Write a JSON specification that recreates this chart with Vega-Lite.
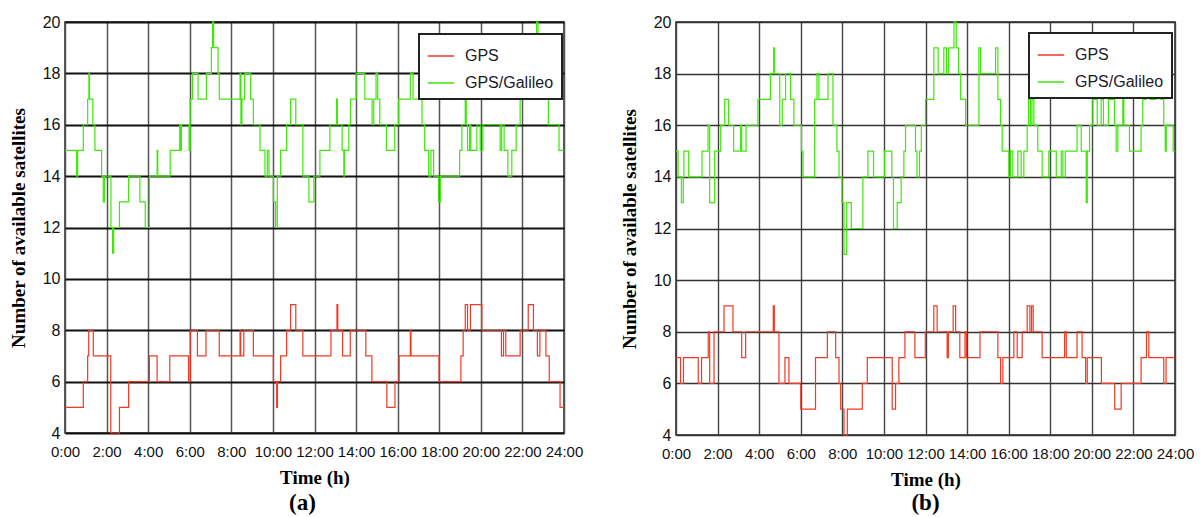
{
  "$schema": "https://vega.github.io/schema/vega-lite/v6.json",
  "background": "white",
  "padding": {"left": 8, "top": 13, "right": 5, "bottom": 5},
  "spacing": 35,
  "datasets": {
    "a": [
      {"s":"GPS/Galileo","t":0,"n":15},{"s":"GPS/Galileo","t":0.56,"n":14},{"s":"GPS/Galileo","t":0.61,"n":15},{"s":"GPS/Galileo","t":0.88,"n":16},{"s":"GPS/Galileo","t":1.09,"n":17},{"s":"GPS/Galileo","t":1.15,"n":18},{"s":"GPS/Galileo","t":1.18,"n":17},{"s":"GPS/Galileo","t":1.34,"n":16},{"s":"GPS/Galileo","t":1.44,"n":15},{"s":"GPS/Galileo","t":1.76,"n":14},{"s":"GPS/Galileo","t":1.84,"n":13},{"s":"GPS/Galileo","t":1.9,"n":14},{"s":"GPS/Galileo","t":2.21,"n":12},{"s":"GPS/Galileo","t":2.29,"n":11},{"s":"GPS/Galileo","t":2.34,"n":12},{"s":"GPS/Galileo","t":2.62,"n":13},{"s":"GPS/Galileo","t":3.06,"n":14},{"s":"GPS/Galileo","t":3.6,"n":13},{"s":"GPS/Galileo","t":3.86,"n":12},{"s":"GPS/Galileo","t":4.06,"n":14},{"s":"GPS/Galileo","t":4.43,"n":15},{"s":"GPS/Galileo","t":4.46,"n":14},{"s":"GPS/Galileo","t":5.06,"n":15},{"s":"GPS/Galileo","t":5.52,"n":16},{"s":"GPS/Galileo","t":5.55,"n":15},{"s":"GPS/Galileo","t":5.6,"n":16},{"s":"GPS/Galileo","t":5.97,"n":15},{"s":"GPS/Galileo","t":6.02,"n":17},{"s":"GPS/Galileo","t":6.13,"n":18},{"s":"GPS/Galileo","t":6.4,"n":17},{"s":"GPS/Galileo","t":6.8,"n":18},{"s":"GPS/Galileo","t":7.04,"n":19},{"s":"GPS/Galileo","t":7.1,"n":20},{"s":"GPS/Galileo","t":7.15,"n":19},{"s":"GPS/Galileo","t":7.36,"n":18},{"s":"GPS/Galileo","t":7.42,"n":17},{"s":"GPS/Galileo","t":8.42,"n":18},{"s":"GPS/Galileo","t":8.46,"n":16},{"s":"GPS/Galileo","t":8.51,"n":17},{"s":"GPS/Galileo","t":8.64,"n":18},{"s":"GPS/Galileo","t":8.93,"n":17},{"s":"GPS/Galileo","t":9.06,"n":16},{"s":"GPS/Galileo","t":9.38,"n":15},{"s":"GPS/Galileo","t":9.62,"n":14},{"s":"GPS/Galileo","t":9.73,"n":15},{"s":"GPS/Galileo","t":9.81,"n":14},{"s":"GPS/Galileo","t":10.02,"n":13},{"s":"GPS/Galileo","t":10.13,"n":12},{"s":"GPS/Galileo","t":10.21,"n":14},{"s":"GPS/Galileo","t":10.37,"n":15},{"s":"GPS/Galileo","t":10.66,"n":16},{"s":"GPS/Galileo","t":10.85,"n":17},{"s":"GPS/Galileo","t":11.1,"n":16},{"s":"GPS/Galileo","t":11.44,"n":14},{"s":"GPS/Galileo","t":11.73,"n":13},{"s":"GPS/Galileo","t":11.97,"n":14},{"s":"GPS/Galileo","t":12.26,"n":15},{"s":"GPS/Galileo","t":12.74,"n":16},{"s":"GPS/Galileo","t":13.06,"n":17},{"s":"GPS/Galileo","t":13.1,"n":16},{"s":"GPS/Galileo","t":13.33,"n":15},{"s":"GPS/Galileo","t":13.41,"n":14},{"s":"GPS/Galileo","t":13.44,"n":15},{"s":"GPS/Galileo","t":13.65,"n":16},{"s":"GPS/Galileo","t":13.73,"n":17},{"s":"GPS/Galileo","t":14.0,"n":18},{"s":"GPS/Galileo","t":14.42,"n":17},{"s":"GPS/Galileo","t":14.77,"n":16},{"s":"GPS/Galileo","t":14.85,"n":17},{"s":"GPS/Galileo","t":14.96,"n":18},{"s":"GPS/Galileo","t":15.04,"n":17},{"s":"GPS/Galileo","t":15.14,"n":16},{"s":"GPS/Galileo","t":15.46,"n":15},{"s":"GPS/Galileo","t":15.86,"n":16},{"s":"GPS/Galileo","t":16.05,"n":17},{"s":"GPS/Galileo","t":16.61,"n":18},{"s":"GPS/Galileo","t":16.74,"n":17},{"s":"GPS/Galileo","t":17.17,"n":16},{"s":"GPS/Galileo","t":17.3,"n":15},{"s":"GPS/Galileo","t":17.49,"n":14},{"s":"GPS/Galileo","t":17.6,"n":15},{"s":"GPS/Galileo","t":17.73,"n":14},{"s":"GPS/Galileo","t":17.97,"n":13},{"s":"GPS/Galileo","t":18.05,"n":14},{"s":"GPS/Galileo","t":18.98,"n":15},{"s":"GPS/Galileo","t":19.09,"n":16},{"s":"GPS/Galileo","t":19.25,"n":17},{"s":"GPS/Galileo","t":19.3,"n":16},{"s":"GPS/Galileo","t":19.36,"n":15},{"s":"GPS/Galileo","t":19.46,"n":16},{"s":"GPS/Galileo","t":19.52,"n":15},{"s":"GPS/Galileo","t":19.81,"n":16},{"s":"GPS/Galileo","t":19.97,"n":15},{"s":"GPS/Galileo","t":20.1,"n":16},{"s":"GPS/Galileo","t":20.93,"n":15},{"s":"GPS/Galileo","t":21.0,"n":16},{"s":"GPS/Galileo","t":21.12,"n":15},{"s":"GPS/Galileo","t":21.3,"n":14},{"s":"GPS/Galileo","t":21.49,"n":15},{"s":"GPS/Galileo","t":21.7,"n":16},{"s":"GPS/Galileo","t":21.89,"n":17},{"s":"GPS/Galileo","t":22.2,"n":18},{"s":"GPS/Galileo","t":22.68,"n":20},{"s":"GPS/Galileo","t":22.75,"n":18},{"s":"GPS/Galileo","t":23.09,"n":17},{"s":"GPS/Galileo","t":23.25,"n":16},{"s":"GPS/Galileo","t":23.76,"n":15},{"s":"GPS/Galileo","t":24,"n":15},
      {"s":"GPS","t":0,"n":5},{"s":"GPS","t":0.88,"n":6},{"s":"GPS","t":1.09,"n":7},{"s":"GPS","t":1.14,"n":8},{"s":"GPS","t":1.36,"n":7},{"s":"GPS","t":2.2,"n":4},{"s":"GPS","t":2.62,"n":5},{"s":"GPS","t":3.06,"n":6},{"s":"GPS","t":4.06,"n":7},{"s":"GPS","t":4.43,"n":6},{"s":"GPS","t":5.04,"n":7},{"s":"GPS","t":5.94,"n":6},{"s":"GPS","t":6.02,"n":8},{"s":"GPS","t":6.37,"n":7},{"s":"GPS","t":6.78,"n":8},{"s":"GPS","t":7.42,"n":7},{"s":"GPS","t":8.42,"n":8},{"s":"GPS","t":8.45,"n":7},{"s":"GPS","t":8.6,"n":8},{"s":"GPS","t":9.06,"n":7},{"s":"GPS","t":10.02,"n":6},{"s":"GPS","t":10.18,"n":5},{"s":"GPS","t":10.22,"n":6},{"s":"GPS","t":10.37,"n":7},{"s":"GPS","t":10.66,"n":8},{"s":"GPS","t":10.85,"n":9},{"s":"GPS","t":11.1,"n":8},{"s":"GPS","t":11.44,"n":7},{"s":"GPS","t":12.79,"n":8},{"s":"GPS","t":13.08,"n":9},{"s":"GPS","t":13.12,"n":8},{"s":"GPS","t":13.35,"n":7},{"s":"GPS","t":13.72,"n":8},{"s":"GPS","t":14.47,"n":7},{"s":"GPS","t":14.76,"n":6},{"s":"GPS","t":15.48,"n":5},{"s":"GPS","t":15.87,"n":6},{"s":"GPS","t":16.07,"n":7},{"s":"GPS","t":16.61,"n":8},{"s":"GPS","t":16.64,"n":7},{"s":"GPS","t":17.99,"n":6},{"s":"GPS","t":19.04,"n":7},{"s":"GPS","t":19.15,"n":8},{"s":"GPS","t":19.25,"n":9},{"s":"GPS","t":19.36,"n":8},{"s":"GPS","t":19.5,"n":9},{"s":"GPS","t":20.05,"n":8},{"s":"GPS","t":20.99,"n":7},{"s":"GPS","t":21.09,"n":8},{"s":"GPS","t":21.2,"n":7},{"s":"GPS","t":21.89,"n":8},{"s":"GPS","t":22.28,"n":9},{"s":"GPS","t":22.53,"n":8},{"s":"GPS","t":22.72,"n":7},{"s":"GPS","t":22.84,"n":8},{"s":"GPS","t":23.13,"n":7},{"s":"GPS","t":23.29,"n":6},{"s":"GPS","t":23.81,"n":5},{"s":"GPS","t":24,"n":5}
    ],
    "b": [
      {"s":"GPS/Galileo","t":0,"n":15},{"s":"GPS/Galileo","t":0.1,"n":14},{"s":"GPS/Galileo","t":0.26,"n":13},{"s":"GPS/Galileo","t":0.35,"n":14},{"s":"GPS/Galileo","t":0.38,"n":15},{"s":"GPS/Galileo","t":0.61,"n":14},{"s":"GPS/Galileo","t":1.25,"n":15},{"s":"GPS/Galileo","t":1.54,"n":16},{"s":"GPS/Galileo","t":1.62,"n":13},{"s":"GPS/Galileo","t":1.86,"n":15},{"s":"GPS/Galileo","t":2.15,"n":16},{"s":"GPS/Galileo","t":2.34,"n":17},{"s":"GPS/Galileo","t":2.53,"n":16},{"s":"GPS/Galileo","t":2.77,"n":15},{"s":"GPS/Galileo","t":3.11,"n":16},{"s":"GPS/Galileo","t":3.16,"n":15},{"s":"GPS/Galileo","t":3.37,"n":16},{"s":"GPS/Galileo","t":3.94,"n":17},{"s":"GPS/Galileo","t":4.54,"n":18},{"s":"GPS/Galileo","t":4.7,"n":19},{"s":"GPS/Galileo","t":4.74,"n":18},{"s":"GPS/Galileo","t":4.99,"n":16},{"s":"GPS/Galileo","t":5.11,"n":17},{"s":"GPS/Galileo","t":5.27,"n":18},{"s":"GPS/Galileo","t":5.51,"n":17},{"s":"GPS/Galileo","t":5.67,"n":16},{"s":"GPS/Galileo","t":6.03,"n":15},{"s":"GPS/Galileo","t":6.11,"n":14},{"s":"GPS/Galileo","t":6.67,"n":17},{"s":"GPS/Galileo","t":6.78,"n":18},{"s":"GPS/Galileo","t":6.87,"n":17},{"s":"GPS/Galileo","t":7.31,"n":18},{"s":"GPS/Galileo","t":7.55,"n":16},{"s":"GPS/Galileo","t":7.74,"n":15},{"s":"GPS/Galileo","t":7.84,"n":14},{"s":"GPS/Galileo","t":7.98,"n":13},{"s":"GPS/Galileo","t":8.08,"n":11},{"s":"GPS/Galileo","t":8.21,"n":13},{"s":"GPS/Galileo","t":8.43,"n":12},{"s":"GPS/Galileo","t":8.99,"n":14},{"s":"GPS/Galileo","t":9.23,"n":15},{"s":"GPS/Galileo","t":9.5,"n":14},{"s":"GPS/Galileo","t":10.03,"n":15},{"s":"GPS/Galileo","t":10.38,"n":14},{"s":"GPS/Galileo","t":10.46,"n":12},{"s":"GPS/Galileo","t":10.64,"n":13},{"s":"GPS/Galileo","t":10.83,"n":14},{"s":"GPS/Galileo","t":10.96,"n":15},{"s":"GPS/Galileo","t":11.04,"n":16},{"s":"GPS/Galileo","t":11.52,"n":15},{"s":"GPS/Galileo","t":11.59,"n":14},{"s":"GPS/Galileo","t":11.71,"n":15},{"s":"GPS/Galileo","t":11.8,"n":16},{"s":"GPS/Galileo","t":12.0,"n":17},{"s":"GPS/Galileo","t":12.4,"n":19},{"s":"GPS/Galileo","t":12.61,"n":18},{"s":"GPS/Galileo","t":12.88,"n":19},{"s":"GPS/Galileo","t":13.01,"n":18},{"s":"GPS/Galileo","t":13.11,"n":19},{"s":"GPS/Galileo","t":13.37,"n":20},{"s":"GPS/Galileo","t":13.48,"n":19},{"s":"GPS/Galileo","t":13.59,"n":18},{"s":"GPS/Galileo","t":13.69,"n":17},{"s":"GPS/Galileo","t":13.93,"n":16},{"s":"GPS/Galileo","t":14.57,"n":19},{"s":"GPS/Galileo","t":14.65,"n":18},{"s":"GPS/Galileo","t":15.37,"n":19},{"s":"GPS/Galileo","t":15.48,"n":17},{"s":"GPS/Galileo","t":15.61,"n":16},{"s":"GPS/Galileo","t":15.69,"n":15},{"s":"GPS/Galileo","t":16.01,"n":14},{"s":"GPS/Galileo","t":16.09,"n":15},{"s":"GPS/Galileo","t":16.2,"n":14},{"s":"GPS/Galileo","t":16.44,"n":15},{"s":"GPS/Galileo","t":16.6,"n":14},{"s":"GPS/Galileo","t":16.73,"n":15},{"s":"GPS/Galileo","t":16.89,"n":16},{"s":"GPS/Galileo","t":16.96,"n":17},{"s":"GPS/Galileo","t":17.05,"n":16},{"s":"GPS/Galileo","t":17.12,"n":17},{"s":"GPS/Galileo","t":17.21,"n":16},{"s":"GPS/Galileo","t":17.4,"n":15},{"s":"GPS/Galileo","t":17.61,"n":14},{"s":"GPS/Galileo","t":17.93,"n":15},{"s":"GPS/Galileo","t":18.29,"n":14},{"s":"GPS/Galileo","t":18.53,"n":15},{"s":"GPS/Galileo","t":18.61,"n":14},{"s":"GPS/Galileo","t":18.72,"n":15},{"s":"GPS/Galileo","t":19.29,"n":16},{"s":"GPS/Galileo","t":19.49,"n":15},{"s":"GPS/Galileo","t":19.73,"n":13},{"s":"GPS/Galileo","t":19.78,"n":15},{"s":"GPS/Galileo","t":19.89,"n":16},{"s":"GPS/Galileo","t":20.05,"n":17},{"s":"GPS/Galileo","t":20.26,"n":16},{"s":"GPS/Galileo","t":20.45,"n":17},{"s":"GPS/Galileo","t":20.56,"n":16},{"s":"GPS/Galileo","t":20.8,"n":17},{"s":"GPS/Galileo","t":21.09,"n":16},{"s":"GPS/Galileo","t":21.17,"n":15},{"s":"GPS/Galileo","t":21.25,"n":16},{"s":"GPS/Galileo","t":21.49,"n":17},{"s":"GPS/Galileo","t":21.54,"n":16},{"s":"GPS/Galileo","t":21.81,"n":15},{"s":"GPS/Galileo","t":22.37,"n":16},{"s":"GPS/Galileo","t":22.45,"n":17},{"s":"GPS/Galileo","t":22.61,"n":18},{"s":"GPS/Galileo","t":22.8,"n":17},{"s":"GPS/Galileo","t":23.09,"n":18},{"s":"GPS/Galileo","t":23.33,"n":17},{"s":"GPS/Galileo","t":23.46,"n":16},{"s":"GPS/Galileo","t":23.53,"n":15},{"s":"GPS/Galileo","t":23.58,"n":16},{"s":"GPS/Galileo","t":23.91,"n":15},{"s":"GPS/Galileo","t":24,"n":15},
      {"s":"GPS","t":0,"n":7},{"s":"GPS","t":0.22,"n":6},{"s":"GPS","t":0.36,"n":7},{"s":"GPS","t":1.07,"n":6},{"s":"GPS","t":1.23,"n":7},{"s":"GPS","t":1.55,"n":8},{"s":"GPS","t":1.62,"n":6},{"s":"GPS","t":1.83,"n":8},{"s":"GPS","t":2.31,"n":9},{"s":"GPS","t":2.74,"n":8},{"s":"GPS","t":3.16,"n":7},{"s":"GPS","t":3.35,"n":8},{"s":"GPS","t":4.68,"n":9},{"s":"GPS","t":4.73,"n":8},{"s":"GPS","t":4.95,"n":6},{"s":"GPS","t":5.24,"n":7},{"s":"GPS","t":5.43,"n":6},{"s":"GPS","t":6.0,"n":5},{"s":"GPS","t":6.71,"n":7},{"s":"GPS","t":7.28,"n":8},{"s":"GPS","t":7.68,"n":7},{"s":"GPS","t":7.84,"n":6},{"s":"GPS","t":7.92,"n":5},{"s":"GPS","t":8.08,"n":4},{"s":"GPS","t":8.24,"n":5},{"s":"GPS","t":8.96,"n":6},{"s":"GPS","t":9.2,"n":7},{"s":"GPS","t":10.4,"n":5},{"s":"GPS","t":10.56,"n":6},{"s":"GPS","t":10.72,"n":7},{"s":"GPS","t":11.01,"n":8},{"s":"GPS","t":11.49,"n":7},{"s":"GPS","t":11.99,"n":8},{"s":"GPS","t":12.4,"n":9},{"s":"GPS","t":12.56,"n":8},{"s":"GPS","t":13.04,"n":7},{"s":"GPS","t":13.1,"n":8},{"s":"GPS","t":13.33,"n":9},{"s":"GPS","t":13.45,"n":8},{"s":"GPS","t":13.65,"n":7},{"s":"GPS","t":13.9,"n":8},{"s":"GPS","t":13.97,"n":7},{"s":"GPS","t":14.62,"n":8},{"s":"GPS","t":15.48,"n":7},{"s":"GPS","t":15.61,"n":6},{"s":"GPS","t":15.72,"n":7},{"s":"GPS","t":16.25,"n":8},{"s":"GPS","t":16.41,"n":7},{"s":"GPS","t":16.65,"n":8},{"s":"GPS","t":16.89,"n":9},{"s":"GPS","t":17.02,"n":8},{"s":"GPS","t":17.1,"n":9},{"s":"GPS","t":17.18,"n":8},{"s":"GPS","t":17.61,"n":7},{"s":"GPS","t":18.69,"n":8},{"s":"GPS","t":18.77,"n":7},{"s":"GPS","t":19.29,"n":8},{"s":"GPS","t":19.53,"n":7},{"s":"GPS","t":19.7,"n":6},{"s":"GPS","t":19.78,"n":7},{"s":"GPS","t":20.46,"n":6},{"s":"GPS","t":21.1,"n":5},{"s":"GPS","t":21.41,"n":6},{"s":"GPS","t":22.37,"n":7},{"s":"GPS","t":22.63,"n":8},{"s":"GPS","t":22.74,"n":7},{"s":"GPS","t":23.46,"n":6},{"s":"GPS","t":23.57,"n":7},{"s":"GPS","t":24,"n":7}
    ]
  },
  "hconcat": [
    {
      "width": 499,
      "height": 411,
      "data": {"name": "a"},
      "title": {"text": "(a)", "orient": "bottom", "font": "Liberation Serif", "fontSize": 23, "fontWeight": "bold", "color": "black", "offset": 5, "dx": -12},
      "mark": {"type": "line", "interpolate": "step-after", "strokeWidth": 1.2},
      "encoding": {
        "x": {"field": "t", "type": "quantitative", "scale": {"domain": [0, 24], "nice": false},
          "axis": {"values": [0,2,4,6,8,10,12,14,16,18,20,22,24], "labelExpr": "datum.value + ':00'", "title": "Time (h)", "gridColor": "#555", "gridWidth": 1.5}},
        "y": {"field": "n", "type": "quantitative", "scale": {"domain": [4, 20], "nice": false, "zero": false},
          "axis": {"values": [4,6,8,10,12,14,16,18,20], "title": "Number of available satellites", "gridColor": "#111", "gridWidth": 2}},
        "color": {"field": "s", "type": "nominal",
          "scale": {"domain": ["GPS", "GPS/Galileo"], "range": ["#f03a24", "#3ee80a"]},
          "legend": {"orient": "none", "legendX": 354, "legendY": 12, "title": null}}
      }
    },
    {
      "width": 499,
      "height": 413,
      "data": {"name": "b"},
      "title": {"text": "(b)", "orient": "bottom", "font": "Liberation Serif", "fontSize": 23, "fontWeight": "bold", "color": "black", "offset": 3, "dx": 0},
      "mark": {"type": "line", "interpolate": "step-after", "strokeWidth": 1.2},
      "encoding": {
        "x": {"field": "t", "type": "quantitative", "scale": {"domain": [0, 24], "nice": false},
          "axis": {"values": [0,2,4,6,8,10,12,14,16,18,20,22,24], "labelExpr": "datum.value + ':00'", "title": "Time (h)", "gridColor": "#444", "gridWidth": 1.4}},
        "y": {"field": "n", "type": "quantitative", "scale": {"domain": [4, 20], "nice": false, "zero": false},
          "axis": {"values": [4,6,8,10,12,14,16,18,20], "title": "Number of available satellites", "gridColor": "#333", "gridWidth": 1.4}},
        "color": {"field": "s", "type": "nominal",
          "scale": {"domain": ["GPS", "GPS/Galileo"], "range": ["#f03a24", "#3ee80a"]},
          "legend": {"orient": "none", "legendX": 353, "legendY": 11, "title": null}}
      }
    }
  ],
  "resolve": {"scale": {"color": "independent"}, "legend": {"color": "independent"}},
  "config": {
    "view": {"stroke": "#222", "strokeWidth": 1.5},
    "axis": {
      "labelFont": "Liberation Sans",
      "labelFontSize": 15,
      "labelColor": "#111",
      "titleFont": "Liberation Serif",
      "titleFontWeight": "bold",
      "titleFontSize": 19,
      "titleColor": "black",
      "domain": false,
      "ticks": false,
      "grid": true
    },
    "axisX": {"labelPadding": 11, "titlePadding": 9, "labelFlush": false},
    "axisY": {"labelPadding": 5, "titlePadding": 14, "labelFontSize": 16},
    "legend": {
      "fillColor": "white",
      "strokeColor": "#222",
      "strokeWidth": 2,
      "padding": 8,
      "cornerRadius": 0,
      "symbolType": "stroke",
      "symbolSize": 700,
      "symbolStrokeWidth": 1.5,
      "labelFont": "Liberation Sans",
      "labelFontSize": 16,
      "labelColor": "#1a1a2a",
      "labelOffset": 10,
      "rowPadding": 5
    }
  }
}
